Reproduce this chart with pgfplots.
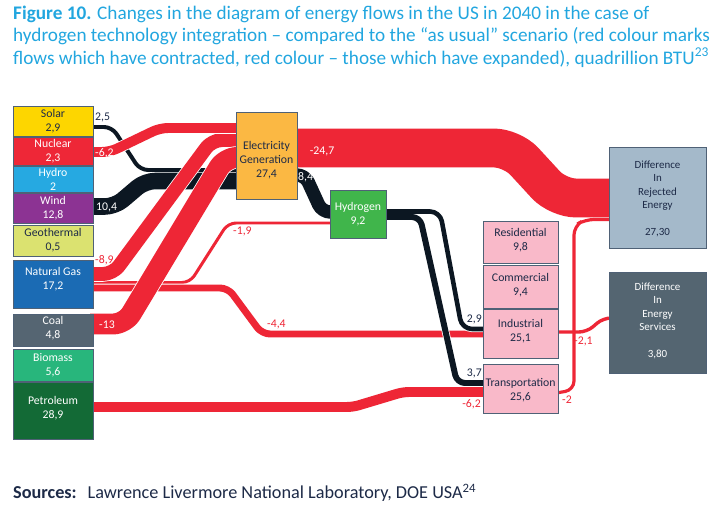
\documentclass[border=0pt]{standalone}
\usepackage{fontspec}
\setmainfont{Carlito}
\usepackage{pgfplots}
\pgfplotsset{compat=1.18}

\definecolor{titleblue}{HTML}{22A6DF}
\definecolor{flowred}{HTML}{EE2636}
\definecolor{flowblack}{HTML}{0C1722}
\definecolor{boxline}{HTML}{4F6176}
\definecolor{txtdark}{HTML}{1D2A47}
\definecolor{csolar}{HTML}{FDD600}
\definecolor{cnuclear}{HTML}{EE2737}
\definecolor{chydro}{HTML}{26A9E1}
\definecolor{cwind}{HTML}{8C3393}
\definecolor{cgeo}{HTML}{DBE270}
\definecolor{cgas}{HTML}{1B6BB4}
\definecolor{ccoal}{HTML}{556572}
\definecolor{cbio}{HTML}{28B67C}
\definecolor{cpetro}{HTML}{136A36}
\definecolor{celec}{HTML}{FBB843}
\definecolor{chydrogen}{HTML}{40B54B}
\definecolor{cpink}{HTML}{F9B9C9}
\definecolor{creject}{HTML}{A4B9CA}
\definecolor{cservice}{HTML}{546571}

% box: x1 y1 x2 y2 fill
\newcommand{\ebox}[5]{\addplot[fill=#5, draw=boxline, line width=0.8pt, mark=none] coordinates {(#1,#2) (#3,#2) (#3,#4) (#1,#4)} -- cycle;}
% red band with white edge: width, radius, coords
\newcommand{\redflow}[3]{%
  \addplot[draw=white, line width=#1+1.6, rounded corners=#2, line join=round, mark=none] coordinates {#3};
  \addplot[draw=flowred, line width=#1, rounded corners=#2, line join=round, mark=none] coordinates {#3};}
\newcommand{\blackflow}[3]{%
  \addplot[draw=flowblack, line width=#1, rounded corners=#2, line join=round, mark=none] coordinates {#3};}

\begin{document}
\begin{tikzpicture}
\begin{axis}[
  scale only axis,
  width=714bp, height=510bp,
  xmin=0, xmax=714, ymin=0, ymax=510,
  y dir=reverse,
  hide axis,
  clip=false,
]
\addplot[draw=none, mark=none] coordinates {(0,0) (714,510)};

% black flows into electricity
\blackflow{4}{8}{(90,127) (112,127) (140,170) (238,170)}
\blackflow{16.6}{10}{(90,206.5) (115,206.5) (145,181) (238,181)}

% natural gas branches
\redflow{3}{8}{(90,282.5) (190,282.5) (228,223) (332,223)}
\redflow{7}{8}{(90,288) (228,288) (262,334) (485,334)}

% red flows into electricity
\redflow{14}{10}{(90,274) (113,274) (212,140) (238,140)}
\redflow{21}{12}{(90,324) (125,324) (225,157.5) (238,157.5)}
\redflow{10}{8}{(90,152) (110,152) (160,128) (238,128)}

% petroleum -> transportation
\redflow{10}{6}{(90,407) (353,407) (403,392) (485,392)}

% electricity -> rejected
\redflow{39}{18}{(295,148) (512,148) (558,198) (612,198)}

% electricity -> hydrogen
\blackflow{13.4}{8}{(295,175) (305,175) (322,212) (332,212)}

% hydrogen -> industrial / transportation
\addplot[draw=white, line width=7.6, rounded corners=8, mark=none] coordinates {(384,217) (420,217) (457,383) (485,383)};
\addplot[draw=white, line width=6.2, rounded corners=10, mark=none] coordinates {(384,211.5) (440,211.5) (462,329) (485,329)};
\blackflow{6}{8}{(384,217) (420,217) (457,383) (485,383)}
\blackflow{4.6}{10}{(384,211.5) (440,211.5) (462,329) (485,329)}

% end-use -> differences
\redflow{3.4}{8}{(556,332) (587,332) (603,318) (612,318)}
\addplot[draw=flowred, line width=3.2, rounded corners=9, mark=none] coordinates {(556,393) (574,390) (574,226) (585,219.5) (612,219.5)};

% source boxes
\ebox{13}{106}{93}{136}{csolar}
\ebox{13}{137}{93}{165}{cnuclear}
\ebox{13}{166}{93}{192}{chydro}
\ebox{13}{193}{93}{223}{cwind}
\ebox{13}{225}{93}{256}{cgeo}
\ebox{13}{260}{93}{308}{cgas}
\ebox{13}{314}{93}{346}{ccoal}
\ebox{13}{349}{93}{381}{cbio}
\ebox{13}{382}{93}{439}{cpetro}
% middle boxes
\ebox{236}{112}{297}{199}{celec}
\ebox{330}{190}{386}{238}{chydrogen}
\ebox{483}{221}{558}{263}{cpink}
\ebox{483}{265}{558}{308}{cpink}
\ebox{483}{309}{558}{358}{cpink}
\ebox{483}{364}{558}{413}{cpink}
% result boxes
\ebox{609}{147}{706}{248}{creject}
\ebox{609}{272}{706}{373}{cservice}

% box texts
\begin{scope}[every node/.style={align=center, font=\fontsize{11.8}{14}\selectfont}]
\node[text=txtdark] at (axis cs:53,121) {Solar\\2,9};
\node[text=white] at (axis cs:53,151) {Nuclear\\2,3};
\node[text=white] at (axis cs:53,179) {Hydro\\2};
\node[text=white] at (axis cs:53,208) {Wind\\12,8};
\node[text=txtdark] at (axis cs:53,240.5) {Geothermal\\0,5};
\node[text=white] at (axis cs:53,279) {Natural Gas\\17,2};
\node[text=white] at (axis cs:53,328) {Coal\\4,8};
\node[text=white] at (axis cs:53,365) {Biomass\\5,6};
\node[text=white] at (axis cs:53,408) {Petroleum\\28,9};
\node[text=txtdark] at (axis cs:266.5,160) {Electricity\\Generation\\27,4};
\node[text=white] at (axis cs:358,214) {Hydrogen\\9,2};
\node[text=txtdark] at (axis cs:520.5,240) {Residential\\9,8};
\node[text=txtdark] at (axis cs:520.5,285) {Commercial\\9,4};
\node[text=txtdark] at (axis cs:520.5,331) {Industrial\\25,1};
\node[text=txtdark] at (axis cs:520.5,390) {Transportation\\25,6};
\node[text=txtdark, font=\fontsize{11}{13.6}\selectfont] at (axis cs:657.5,199) {Difference\\In\\Rejected\\Energy\\[13.6pt]27,30};
\node[text=white, font=\fontsize{11}{13.6}\selectfont] at (axis cs:657.5,321) {Difference\\In\\Energy\\Services\\[13.6pt]3,80};
\end{scope}

% flow labels
\begin{scope}[every node/.style={font=\fontsize{11.8}{14}\selectfont, inner sep=0pt}]
\node[anchor=west, text=txtdark] at (axis cs:95,117) {2,5};
\node[anchor=west, text=white] at (axis cs:95,153) {-6,2};
\node[anchor=west, text=white] at (axis cs:96,207) {10,4};
\node[anchor=west, text=flowred] at (axis cs:95,260) {-8,9};
\node[anchor=west, text=white] at (axis cs:99,325) {-13};
\node[text=white] at (axis cs:322,151) {-24,7};
\node[anchor=west, text=white] at (axis cs:298,177) {8,4};
\node[anchor=west, text=flowred] at (axis cs:233,231) {-1,9};
\node[anchor=west, text=flowred] at (axis cs:267,324) {-4,4};
\node[anchor=east, text=txtdark] at (axis cs:482,319) {2,9};
\node[anchor=east, text=txtdark] at (axis cs:482,373) {3,7};
\node[anchor=east, text=flowred] at (axis cs:481,404) {-6,2};
\node[anchor=west, text=flowred] at (axis cs:574,341) {-2,1};
\node[anchor=west, text=flowred] at (axis cs:562,400) {-2};
\end{scope}

% title and source
\node[anchor=north west, align=left, text=titleblue, inner sep=0pt,
  font=\fontsize{19.3}{22.3}\selectfont] at (axis cs:13,6)
  {\textbf{Figure 10.} Changes in the diagram of energy flows in the US in 2040 in the case of\\
   hydrogen technology integration -- compared to the “as usual” scenario (red colour marks\\
   flows which have contracted, red colour -- those which have expanded), quadrillion BTU\textsuperscript{23}};
\node[anchor=west, text=txtdark, inner sep=0pt, font=\fontsize{18.3}{22}\selectfont]
  at (axis cs:13,493) {\textbf{Sources:}\hspace{0.6em}Lawrence Livermore National Laboratory, DOE USA\textsuperscript{24}};
\end{axis}
\end{tikzpicture}
\end{document}
